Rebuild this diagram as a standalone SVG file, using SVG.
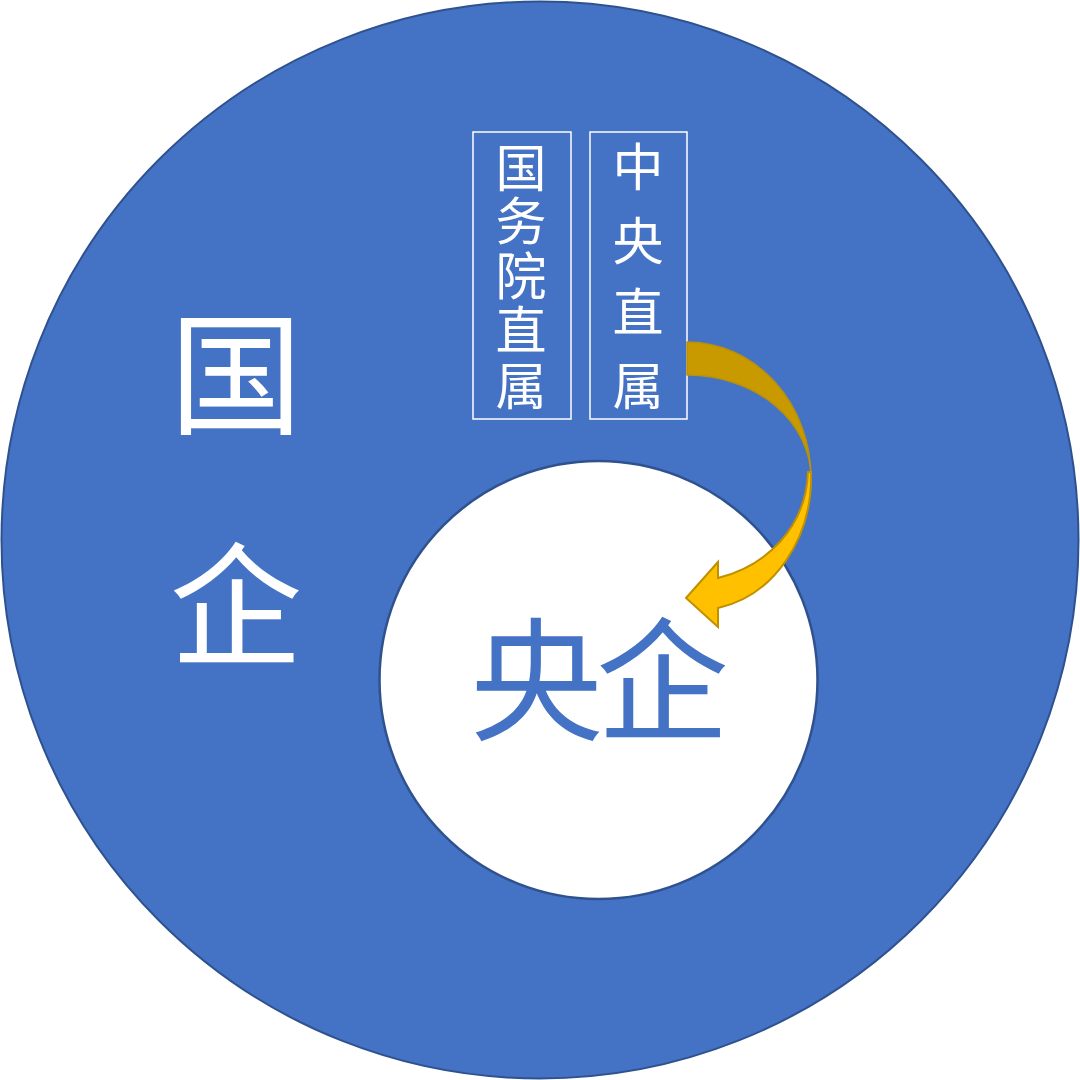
<svg xmlns="http://www.w3.org/2000/svg" width="1080" height="1080" viewBox="0 0 1080 1080">
<style>
.big{font-family:"Noto Sans CJK SC","Noto Sans CJK JP",sans-serif;font-size:133px;text-anchor:middle}
.sm{font-family:"Noto Sans CJK SC","Noto Sans CJK JP",sans-serif;font-size:51px;font-weight:400;fill:#fff;text-anchor:middle}
.box{fill:none;stroke:#fff;stroke-width:1.5}
</style>
<g id="outer">
<circle cx="540" cy="540" r="538.5" fill="#4472C4" stroke="#2F528F" stroke-width="2"/>
<text class="big" x="236" y="424" fill="#fff">国</text>
<text class="big" x="236" y="655" fill="#fff">企</text>
</g>
<g id="inner">
<circle cx="598.5" cy="680" r="219" fill="#fff" stroke="#2F528F" stroke-width="2.5"/>
<text class="big" x="596" y="730" fill="#4472C4" letter-spacing="-7">央企</text>
</g>
<g id="box-guowuyuan">
<rect class="box" x="473" y="132" width="98" height="287"/>
<text class="sm" x="521" y="187">国</text>
<text class="sm" x="521" y="240">务</text>
<text class="sm" x="521" y="295">院</text>
<text class="sm" x="521" y="349">直</text>
<text class="sm" x="521" y="405">属</text>
</g>
<g id="box-zhongyang">
<rect class="box" x="590" y="132" width="97" height="287"/>
<text class="sm" x="638" y="186">中</text>
<text class="sm" x="638" y="260">央</text>
<text class="sm" x="638" y="331">直</text>
<text class="sm" x="638" y="405">属</text>
</g>
<g id="connectors">
<path d="M687,342 A124,136 0 0 1 811,478 A124,103 0 0 0 687,375 Z" fill="#C99A00" stroke="#B8900A" stroke-width="1.5" stroke-linejoin="round"/>
<path d="M811,472 C813,541 772,596 718,608 L718,627 L686,598 L718,562 L718,578 C766,566 806,528 808,472 Z" fill="#FFC000" stroke="#BF9000" stroke-width="2" stroke-linejoin="miter"/>
</g>
</svg>
